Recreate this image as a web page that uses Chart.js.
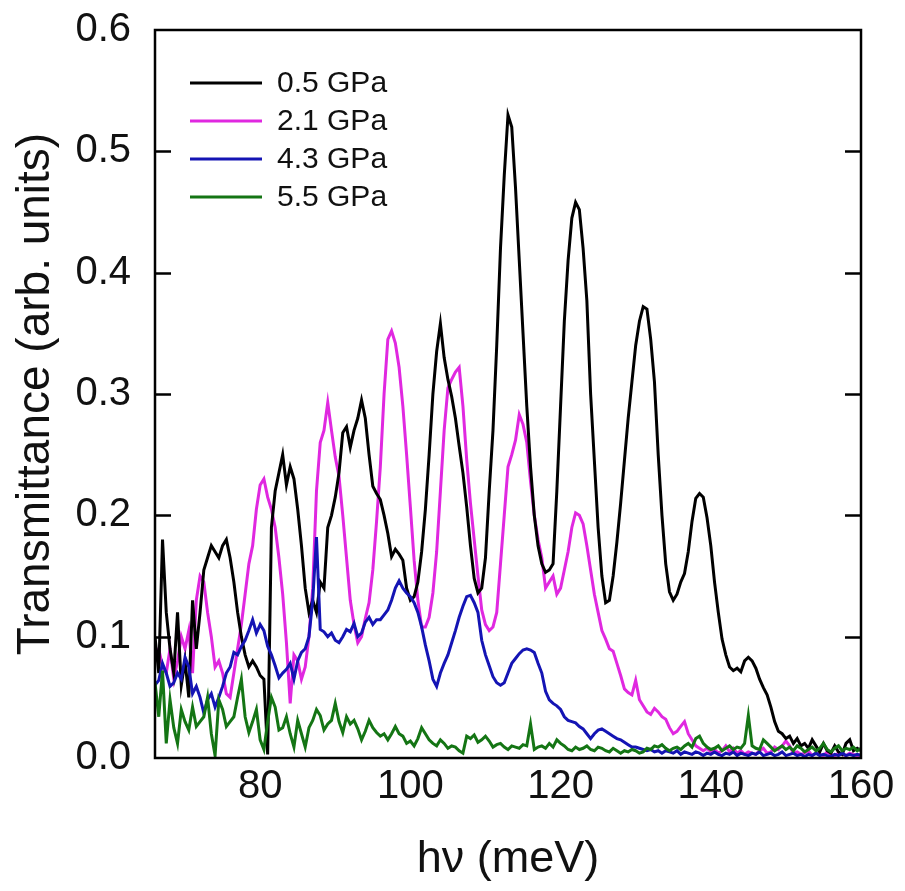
<!DOCTYPE html>
<html>
<head>
<meta charset="utf-8">
<script src="https://cdn.jsdelivr.net/npm/chart.js@4.4.0/dist/chart.umd.min.js"></script>
<style>
  html, body { margin: 0; padding: 0; background: #fff; }
  canvas { display: block; }
</style>
</head>
<body>
<canvas id="chart" width="905" height="891"></canvas>
<script>
// photon energy grid (meV)
var energy = [
  66, 66.5, 67, 67.5, 68, 68.5, 69, 69.5, 70, 70.5,
  71, 71.5, 72, 72.5, 73, 73.5, 74, 74.5, 75, 75.5,
  76, 76.5, 77, 77.5, 78, 78.5, 79, 79.5, 80, 80.5,
  81, 81.5, 82, 82.5, 83, 83.5, 84, 84.5, 85, 85.5,
  86, 86.5, 87, 87.5, 88, 88.5, 89, 89.5, 90, 90.5,
  91, 91.5, 92, 92.5, 93, 93.5, 94, 94.5, 95, 95.5,
  96, 96.5, 97, 97.5, 98, 98.5, 99, 99.5, 100, 100.5,
  101, 101.5, 102, 102.5, 103, 103.5, 104, 104.5, 105, 105.5,
  106, 106.5, 107, 107.5, 108, 108.5, 109, 109.5, 110, 110.5,
  111, 111.5, 112, 112.5, 113, 113.5, 114, 114.5, 115, 115.5,
  116, 116.5, 117, 117.5, 118, 118.5, 119, 119.5, 120, 120.5,
  121, 121.5, 122, 122.5, 123, 123.5, 124, 124.5, 125, 125.5,
  126, 126.5, 127, 127.5, 128, 128.5, 129, 129.5, 130, 130.5,
  131, 131.5, 132, 132.5, 133, 133.5, 134, 134.5, 135, 135.5,
  136, 136.5, 137, 137.5, 138, 138.5, 139, 139.5, 140, 140.5,
  141, 141.5, 142, 142.5, 143, 143.5, 144, 144.5, 145, 145.5,
  146, 146.5, 147, 147.5, 148, 148.5, 149, 149.5, 150, 150.5,
  151, 151.5, 152, 152.5, 153, 153.5, 154, 154.5, 155, 155.5,
  156, 156.5, 157, 157.5, 158, 158.5, 159, 159.5, 160
];

var gpa05 = [
  0.10, 0.07, 0.18, 0.12, 0.09, 0.07, 0.12, 0.06, 0.08, 0.05,
  0.13, 0.09, 0.12, 0.155, 0.165, 0.175, 0.17, 0.165, 0.175, 0.18,
  0.165, 0.145, 0.12, 0.10, 0.085, 0.075, 0.08, 0.075, 0.068, 0.065,
  0.003, 0.19, 0.22, 0.235, 0.25, 0.225, 0.24, 0.23, 0.205, 0.175,
  0.14, 0.12, 0.13, 0.12, 0.145, 0.14, 0.19, 0.20, 0.215, 0.235,
  0.268, 0.273, 0.256, 0.27, 0.28, 0.295, 0.28, 0.25, 0.224, 0.218,
  0.213, 0.20, 0.185, 0.166, 0.172, 0.168, 0.163, 0.14, 0.13, 0.133,
  0.145, 0.17, 0.205, 0.25, 0.30, 0.335, 0.358, 0.33, 0.312, 0.298,
  0.28, 0.257, 0.235, 0.207, 0.175, 0.148, 0.136, 0.14, 0.165, 0.22,
  0.27, 0.34, 0.42, 0.48, 0.53, 0.52, 0.47, 0.41, 0.35, 0.29,
  0.24, 0.20, 0.175, 0.16, 0.153, 0.155, 0.16, 0.22, 0.29, 0.36,
  0.41, 0.445, 0.458, 0.452, 0.42, 0.377, 0.30, 0.245, 0.19, 0.15,
  0.128, 0.13, 0.15, 0.178, 0.21, 0.245, 0.28, 0.31, 0.34, 0.36,
  0.372, 0.37, 0.345, 0.31, 0.25, 0.20, 0.16, 0.137, 0.13, 0.135,
  0.145, 0.152, 0.17, 0.195, 0.214, 0.218, 0.215, 0.198, 0.175, 0.145,
  0.12, 0.098, 0.085, 0.075, 0.072, 0.074, 0.071, 0.08, 0.083, 0.08,
  0.074, 0.065, 0.058, 0.052, 0.042, 0.03, 0.022, 0.02, 0.016, 0.018,
  0.012, 0.016, 0.01, 0.012, 0.008, 0.015, 0.01, 0.005, 0.012, 0.006,
  0.004, 0.01, 0.005, 0.003, 0.012, 0.015, 0.006, 0.008, 0.006
];

var gpa21 = [
  0.085, 0.09, 0.075, 0.07, 0.09, 0.065, 0.08, 0.10, 0.09, 0.105,
  0.07, 0.13, 0.15, 0.145, 0.12, 0.10, 0.075, 0.08, 0.07, 0.053,
  0.05, 0.07, 0.09, 0.11, 0.135, 0.16, 0.175, 0.205, 0.225, 0.23,
  0.215, 0.205, 0.19, 0.165, 0.135, 0.095, 0.045, 0.085, 0.08, 0.065,
  0.075, 0.10, 0.14, 0.22, 0.26, 0.27, 0.293, 0.27, 0.248, 0.232,
  0.2, 0.165, 0.13, 0.11, 0.095, 0.1, 0.115, 0.128, 0.155, 0.195,
  0.24, 0.30, 0.345, 0.352, 0.342, 0.322, 0.29, 0.25, 0.207, 0.163,
  0.13, 0.108, 0.108, 0.116, 0.136, 0.17, 0.22, 0.27, 0.305, 0.312,
  0.318, 0.322, 0.29, 0.246, 0.21, 0.18, 0.15, 0.122, 0.11, 0.105,
  0.108, 0.12, 0.16, 0.2, 0.24, 0.25, 0.262, 0.283, 0.275, 0.26,
  0.228, 0.2, 0.18, 0.165, 0.14, 0.145, 0.15, 0.135, 0.14, 0.155,
  0.17, 0.19, 0.202, 0.2, 0.193, 0.175, 0.155, 0.135, 0.12, 0.105,
  0.098, 0.09, 0.088, 0.078, 0.068, 0.057, 0.054, 0.052, 0.064, 0.048,
  0.043, 0.038, 0.036, 0.041, 0.038, 0.034, 0.032, 0.025, 0.02, 0.022,
  0.026, 0.03, 0.02, 0.015, 0.01, 0.008, 0.006, 0.008, 0.005, 0.007,
  0.004, 0.006, 0.01, 0.005, 0.008, 0.004, 0.006, 0.003, 0.005, 0.004,
  0.003, 0.006, 0.008, 0.004, 0.005, 0.009, 0.007, 0.01, 0.014, 0.01,
  0.004, 0.005, 0.003, 0.004, 0.006, 0.002, 0.004, 0.003, 0.002, 0.005,
  0.003, 0.002, 0.004, 0.003, 0.002, 0.004, 0.003, 0.002, 0.003
];

var gpa43 = [
  0.06, 0.064, 0.078, 0.07, 0.059, 0.062, 0.07, 0.065, 0.083, 0.075,
  0.053, 0.059, 0.05, 0.037, 0.048, 0.053, 0.042, 0.05, 0.059, 0.07,
  0.075, 0.087, 0.085, 0.092, 0.097, 0.105, 0.114, 0.103, 0.11, 0.105,
  0.092, 0.085, 0.076, 0.066, 0.07, 0.073, 0.078, 0.065, 0.08, 0.087,
  0.09, 0.1, 0.13, 0.182, 0.106, 0.104, 0.1, 0.103, 0.097, 0.095,
  0.1, 0.106, 0.104, 0.111, 0.1, 0.103, 0.112, 0.116, 0.11, 0.114,
  0.114, 0.118, 0.122, 0.13, 0.14, 0.146, 0.14, 0.136, 0.133, 0.128,
  0.12, 0.108, 0.093, 0.08, 0.065, 0.059, 0.07, 0.078, 0.085, 0.095,
  0.105, 0.116, 0.125, 0.133, 0.134, 0.128, 0.12, 0.097, 0.085, 0.076,
  0.067, 0.062, 0.06, 0.062, 0.07, 0.078, 0.082, 0.086, 0.089, 0.09,
  0.089, 0.087, 0.078, 0.07, 0.055, 0.048, 0.045, 0.043, 0.04, 0.034,
  0.031, 0.03, 0.029, 0.026, 0.024, 0.02, 0.016, 0.02, 0.023, 0.024,
  0.022, 0.02, 0.018, 0.016, 0.015, 0.013, 0.011, 0.009, 0.009, 0.008,
  0.007, 0.006, 0.007, 0.005, 0.006, 0.004, 0.006, 0.005, 0.004, 0.006,
  0.003, 0.005, 0.004, 0.003, 0.005, 0.004, 0.002, 0.004, 0.003, 0.005,
  0.003, 0.002, 0.004, 0.003, 0.005, 0.002, 0.004, 0.003, 0.002, 0.004,
  0.003, 0.005, 0.002, 0.003, 0.004, 0.002, 0.003, 0.005, 0.002, 0.003,
  0.004, 0.002, 0.003, 0.001, 0.003, 0.002, 0.004, 0.002, 0.003, 0.002,
  0.001, 0.003, 0.002, 0.004, 0.002, 0.003, 0.002, 0.003, 0.002
];

var gpa55 = [
  0.062, 0.034, 0.072, 0.012, 0.048, 0.025, 0.012, 0.04, 0.03, 0.023,
  0.042, 0.026, 0.03, 0.034, 0.05, 0.02, 0.002, 0.048, 0.04, 0.026,
  0.03, 0.034, 0.05, 0.065, 0.034, 0.021, 0.03, 0.04, 0.015, 0.007,
  0.03, 0.05, 0.042, 0.023, 0.025, 0.034, 0.02, 0.009, 0.031, 0.02,
  0.009, 0.025, 0.031, 0.04, 0.035, 0.023, 0.028, 0.031, 0.045, 0.03,
  0.021, 0.034, 0.028, 0.031, 0.024, 0.015, 0.022, 0.031, 0.025, 0.021,
  0.018, 0.02, 0.015, 0.02, 0.026, 0.02, 0.018, 0.012, 0.014, 0.01,
  0.016, 0.025, 0.02, 0.015, 0.012, 0.01, 0.015, 0.012, 0.008, 0.01,
  0.009, 0.006, 0.004, 0.018, 0.016, 0.019, 0.013, 0.015, 0.018, 0.014,
  0.009, 0.011, 0.012, 0.009, 0.007, 0.01, 0.009, 0.008, 0.011, 0.01,
  0.028, 0.007, 0.009, 0.01, 0.008, 0.012, 0.009, 0.015, 0.012, 0.01,
  0.007, 0.006, 0.009, 0.007, 0.008, 0.01, 0.007, 0.006, 0.009, 0.008,
  0.006, 0.005, 0.008, 0.006, 0.004, 0.006, 0.005, 0.007, 0.006, 0.004,
  0.005, 0.008, 0.007, 0.01, 0.009, 0.011, 0.008, 0.006, 0.008, 0.009,
  0.007, 0.01, 0.012, 0.009, 0.016, 0.018, 0.012, 0.009, 0.007, 0.008,
  0.01, 0.006, 0.008, 0.01, 0.007, 0.009, 0.008, 0.012, 0.035, 0.01,
  0.008, 0.007, 0.015, 0.012, 0.009, 0.006, 0.008, 0.01, 0.007, 0.009,
  0.006, 0.01, 0.008, 0.005, 0.007, 0.009, 0.006, 0.008, 0.012, 0.007,
  0.005, 0.008, 0.01, 0.006, 0.008, 0.007, 0.009, 0.006, 0.008
];

var xTicks = [80, 100, 120, 140, 160];
var yTicks = [0, 0.1, 0.2, 0.3, 0.4, 0.5, 0.6];

var fontFamily = '"Liberation Sans", Arial, sans-serif';
Chart.defaults.font.family = fontFamily;
Chart.defaults.color = '#111';

// box around the plot, with inward ticks on the left and right sides
var framePlugin = {
    id: 'frame',
    afterDraw: function(chart) {
        var ctx = chart.ctx;
        var a = chart.chartArea;
        var y = chart.scales.y;
        ctx.save();
        ctx.strokeStyle = '#000';
        ctx.lineWidth = 2.5;
        ctx.strokeRect(a.left, a.top, a.right - a.left, a.bottom - a.top);
        yTicks.forEach(function(v) {
            if (v === y.min || v === y.max) return;
            var py = Math.round(y.getPixelForValue(v)) + 0.5;
            ctx.beginPath();
            ctx.moveTo(a.left, py);
            ctx.lineTo(a.left + 16, py);
            ctx.moveTo(a.right, py);
            ctx.lineTo(a.right - 16, py);
            ctx.stroke();
        });
        ctx.restore();
    }
};

// legend inside the top-left corner of the plot
var legendPlugin = {
    id: 'insideLegend',
    afterDatasetsDraw: function(chart) {
        var ctx = chart.ctx;
        var a = chart.chartArea;
        ctx.save();
        ctx.font = '30px ' + fontFamily;
        ctx.textBaseline = 'middle';
        chart.data.datasets.forEach(function(ds, i) {
            var ly = a.top + 53 + i * 38;
            ctx.strokeStyle = ds.borderColor;
            ctx.lineWidth = 3;
            ctx.beginPath();
            ctx.moveTo(a.left + 35, ly);
            ctx.lineTo(a.left + 107, ly);
            ctx.stroke();
            ctx.fillStyle = '#111';
            ctx.fillText(ds.label, a.left + 122, ly + 1);
        });
        ctx.restore();
    }
};

var ctx = document.getElementById('chart').getContext('2d');
var chart = new Chart(ctx, {
    type: 'line',
    data: {
        labels: energy,
        datasets: [
            { label: '0.5 GPa', data: gpa05, borderColor: '#000000', order: 2 },
            { label: '2.1 GPa', data: gpa21, borderColor: '#e028e0', order: 3 },
            { label: '4.3 GPa', data: gpa43, borderColor: '#1414b4', order: 1 },
            { label: '5.5 GPa', data: gpa55, borderColor: '#147514', order: 0 }
        ]
    },
    options: {
        responsive: false,
        animation: false,
        layout: {
            padding: { top: 30, right: 44, left: 0, bottom: 0 }
        },
        elements: {
            line: { borderWidth: 3, tension: 0, fill: false },
            point: { radius: 0 }
        },
        plugins: {
            legend: { display: false },
            tooltip: { enabled: false }
        },
        scales: {
            x: {
                type: 'linear',
                min: 66,
                max: 160,
                grid: { display: false, drawTicks: false },
                border: { display: false },
                afterBuildTicks: function(scale) {
                    scale.ticks = xTicks.map(function(v) { return { value: v }; });
                },
                afterFit: function(scale) {
                    scale.height = 133;
                    scale.paddingLeft = 0;
                    scale.paddingRight = 0;
                },
                ticks: {
                    font: { size: 40 },
                    padding: 5,
                    maxRotation: 0,
                    callback: function(v) { return v; }
                },
                title: {
                    display: true,
                    text: 'hν (meV)',
                    font: { size: 45 },
                    padding: { top: 0, bottom: 4 }
                }
            },
            y: {
                min: 0,
                max: 0.6,
                grid: { display: false, drawTicks: false },
                border: { display: false },
                afterBuildTicks: function(scale) {
                    scale.ticks = yTicks.map(function(v) { return { value: v }; });
                },
                afterFit: function(scale) {
                    scale.width = 155;
                    scale.paddingTop = 0;
                    scale.paddingBottom = 0;
                },
                ticks: {
                    font: { size: 40 },
                    padding: 24,
                    callback: function(v) { return v.toFixed(1); }
                },
                title: {
                    display: true,
                    text: 'Transmittance (arb. units)',
                    font: { size: 46 },
                    padding: { top: 9, bottom: 0 }
                }
            }
        }
    },
    plugins: [framePlugin, legendPlugin]
});
</script>
</body>
</html>
